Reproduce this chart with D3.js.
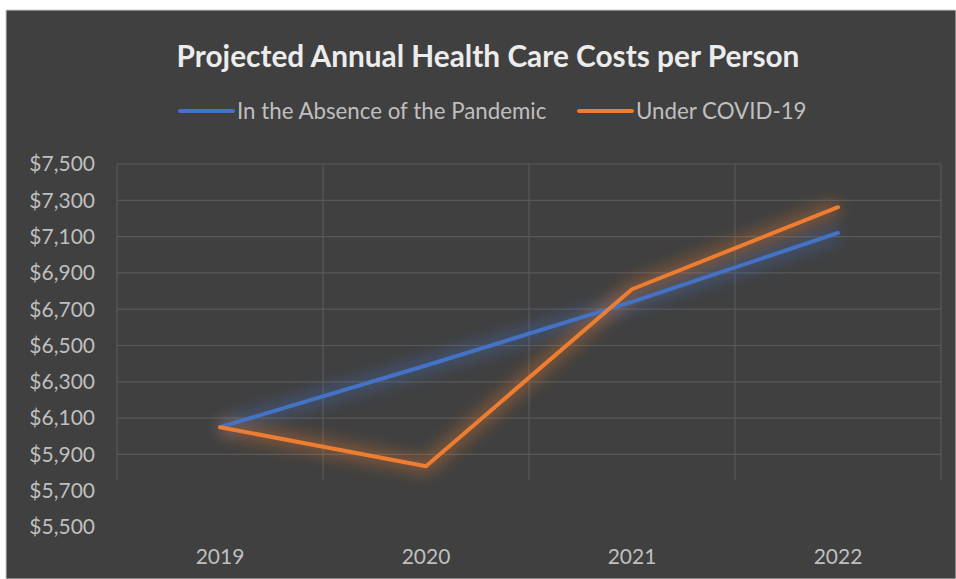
<!DOCTYPE html>
<html>
<meta charset="utf-8">
<style>
  body { margin: 0; background: #fff; }
  text { font-family: Lato, "Open Sans", sans-serif; }
</style>
<script src="https://d3js.org/d3.v7.min.js"></script>
<body>
<script>
  var svgWidth = 956, svgHeight = 579;

  var years = ["2019", "2020", "2021", "2022"];
  var absence = [6050, 6390, 6740, 7120];
  var covid = [6050, 5835, 6810, 7262];
  var yTicks = [5500, 5700, 5900, 6100, 6300, 6500, 6700, 6900, 7100, 7300, 7500];
  var seriesNames = ["In the Absence of the Pandemic", "Under COVID-19"];
  var seriesColors = ["#4472c4", "#ed7d31"];

  var svg = d3.select("body")
    .append("svg")
    .attr("width", svgWidth)
    .attr("height", svgHeight);

  var defs = svg.append("defs");
  var glow = defs.append("filter").attr("id", "glow")
    .attr("x", "-20%").attr("y", "-20%").attr("width", "140%").attr("height", "140%");
  glow.append("feGaussianBlur").attr("stdDeviation", 8);

  // dark chart panel
  svg.append("rect")
    .attr("x", 6).attr("y", 10)
    .attr("width", svgWidth - 6).attr("height", svgHeight - 10)
    .attr("fill", "#404040")
    .attr("stroke", "#d0d0d0").attr("stroke-width", 1);

  var plotLeft = 117, plotRight = 941, plotTop = 164, plotBottom = 527;

  var x = d3.scaleBand().domain(years).range([plotLeft, plotRight]);
  var y = d3.scaleLinear().domain([5500, 7500]).range([plotBottom, plotTop]);

  // gridlines
  var grid = svg.append("g").attr("stroke", "#595959").attr("stroke-width", 1.2);
  grid.selectAll(".h")
    .data(yTicks.filter(function(d){ return d >= 5900; }))
    .enter().append("line")
    .attr("x1", plotLeft).attr("x2", plotRight)
    .attr("y1", function(d){ return y(d); })
    .attr("y2", function(d){ return y(d); });
  grid.selectAll(".v")
    .data(years.concat(["end"]))
    .enter().append("line")
    .attr("x1", function(d, i){ return plotLeft + i * x.bandwidth(); })
    .attr("x2", function(d, i){ return plotLeft + i * x.bandwidth(); })
    .attr("y1", plotTop).attr("y2", y(5760));

  // axis labels
  var fmt = d3.format("$,");
  svg.append("g").selectAll("text")
    .data(yTicks)
    .enter().append("text")
    .attr("x", 95)
    .attr("y", function(d){ return y(d); })
    .attr("dy", "0.35em")
    .attr("text-anchor", "end")
    .attr("fill", "#bfbfbf")
    .attr("font-size", 21)
    .text(function(d){ return fmt(d); });

  svg.append("g").selectAll("text")
    .data(years)
    .enter().append("text")
    .attr("x", function(d){ return x(d) + x.bandwidth() / 2; })
    .attr("y", 557)
    .attr("dy", "0.35em")
    .attr("text-anchor", "middle")
    .attr("fill", "#bfbfbf")
    .attr("font-size", 21)
    .text(function(d){ return d; });

  // lines
  var line = d3.line()
    .x(function(d, i){ return x(years[i]) + x.bandwidth() / 2; })
    .y(function(d){ return y(d); });

  var series = [absence, covid];
  series.forEach(function(s, i){
    svg.append("path")
      .attr("d", line(s))
      .attr("fill", "none")
      .attr("stroke", seriesColors[i])
      .attr("stroke-width", 14)
      .attr("stroke-opacity", 0.4)
      .attr("stroke-linejoin", "round")
      .attr("filter", "url(#glow)");
  });
  series.forEach(function(s, i){
    svg.append("path")
      .attr("d", line(s))
      .attr("fill", "none")
      .attr("stroke", seriesColors[i])
      .attr("stroke-width", 4)
      .attr("stroke-linejoin", "round")
      .attr("stroke-linecap", "round");
  });

  // title
  svg.append("text")
    .attr("x", 488).attr("y", 57)
    .attr("dy", "0.35em")
    .attr("text-anchor", "middle")
    .attr("fill", "#ececec")
    .attr("font-size", 29.8)
    .attr("font-weight", "bold")
    .text("Projected Annual Health Care Costs per Person");

  // legend
  var legendX = [180, 579];
  var legend = svg.selectAll(".legend")
    .data(seriesNames)
    .enter().append("g")
    .attr("transform", function(d, i){ return "translate(" + legendX[i] + ",111)"; });
  legend.append("line")
    .attr("x1", 0).attr("x2", 53)
    .attr("stroke", function(d, i){ return seriesColors[i]; })
    .attr("stroke-width", 4)
    .attr("stroke-linecap", "round");
  legend.append("text")
    .attr("x", 57)
    .attr("dy", "0.35em")
    .attr("fill", "#bfbfbf")
    .attr("font-size", 22.3)
    .text(function(d){ return d; });
</script>
</body>
</html>
